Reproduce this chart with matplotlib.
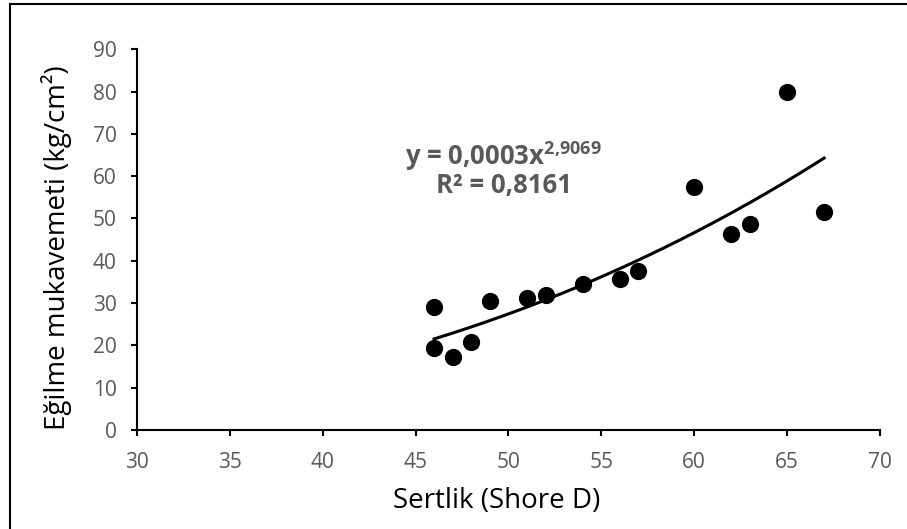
import matplotlib
matplotlib.use("Agg")
import matplotlib.pyplot as plt
from matplotlib.lines import Line2D
import numpy as np

plt.rcParams['font.family'] = ['Open Sans', 'DejaVu Sans']
plt.rcParams['mathtext.fontset'] = 'custom'
plt.rcParams['mathtext.rm'] = 'Open Sans'
plt.rcParams['mathtext.bf'] = 'Open Sans:bold'

# data
sertlik = [46, 46, 47, 48, 49, 51, 52, 54, 56, 57, 60, 62, 63, 65, 67]
egilme = [29.1, 19.4, 17.3, 20.9, 30.6, 31.1, 31.8, 34.6, 35.6, 37.7, 57.4, 46.3, 48.8, 79.9, 51.5]

x_ticks = [30, 35, 40, 45, 50, 55, 60, 65, 70]
y_ticks = [0, 10, 20, 30, 40, 50, 60, 70, 80, 90]

grey = '#595959'

fig = plt.figure(figsize=(9.07, 5.29), dpi=100)
ax = fig.add_axes([0.151, 0.187, 0.819, 0.72])

# chart border (only left and top edges fall inside the picture)
fig.add_artist(Line2D([0.0115, 0.0115], [0, 0.9915], transform=fig.transFigure, color='black', lw=1.5))
fig.add_artist(Line2D([0.0115, 1], [0.9915, 0.9915], transform=fig.transFigure, color='black', lw=1.5))

ax.scatter(sertlik, egilme, s=130, color='black', zorder=3)

# power trendline y = a*x^b
b, ln_a = np.polyfit(np.log(sertlik), np.log(egilme), 1)
xs = np.linspace(min(sertlik), max(sertlik), 200)
ax.plot(xs, np.exp(ln_a) * xs ** b, color='black', lw=2.2)

ax.text(49.75, 62.6, r'y = 0,0003x$^{\mathbf{2{,}9069}}$', ha='center', va='baseline',
        fontsize=18.5, fontweight='bold', color=grey)
ax.text(49.75, 56.0, 'R² = 0,8161', ha='center', va='baseline',
        fontsize=18.5, fontweight='bold', color=grey)

ax.set_xlim(30, 70)
ax.set_ylim(0, 90)
ax.set_xticks(x_ticks)
ax.set_yticks(y_ticks)
ax.tick_params(labelsize=15, labelcolor=grey, length=4.5, width=1.5, color='black')
ax.tick_params(axis='x', pad=11)
ax.tick_params(axis='y', pad=10)
for s in ['top', 'right']:
    ax.spines[s].set_visible(False)
for s in ['left', 'bottom']:
    ax.spines[s].set_linewidth(1.5)

ax.set_xlabel('Sertlik (Shore D)', fontsize=20)
ax.set_ylabel('Eğilme mukavemeti (kg/cm²)', fontsize=20)
ax.xaxis.set_label_coords(0.4845, -0.15)
ax.yaxis.set_label_coords(-0.087, 0.48)

fig.savefig('out.png', dpi=100)
